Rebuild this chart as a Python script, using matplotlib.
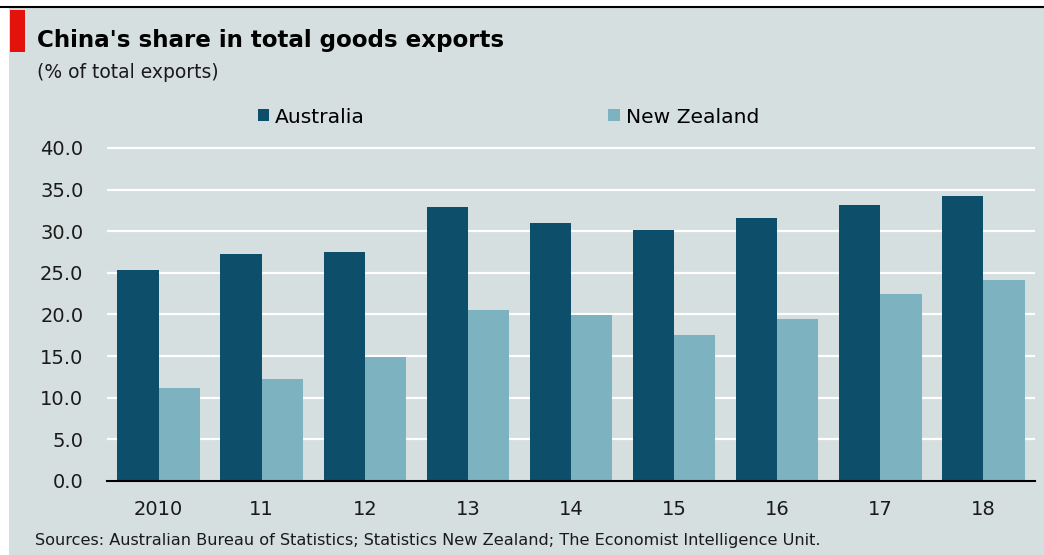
import matplotlib
matplotlib.use('Agg')
import matplotlib.pyplot as plt
import matplotlib.ticker as ticker
from matplotlib.patches import Rectangle
import numpy as np

# China's share in total goods exports, % of total exports
years = ['2010', '11', '12', '13', '14', '15', '16', '17', '18']
australia = [25.3, 27.3, 27.5, 32.9, 31.0, 30.1, 31.6, 33.2, 34.2]
new_zealand = [11.2, 12.3, 14.9, 20.6, 19.9, 17.5, 19.5, 22.5, 24.2]
y_ticks = [0, 5, 10, 15, 20, 25, 30, 35, 40]

dark_blue = '#0d4f6b'
light_blue = '#7db3c0'
bg = '#d5dfdf'

W, H = 1044, 555
fig = plt.figure(figsize=(W / 100, H / 100), dpi=100, facecolor='white')

# grey panel, black rule at the top and red tag
fig.patches.append(Rectangle((9 / W, 0), 1 - 9 / W, 1 - 8 / H, transform=fig.transFigure,
                             facecolor=bg, edgecolor='none', zorder=-10))
fig.lines.append(plt.Line2D([0, 1], [1 - 7 / H, 1 - 7 / H], transform=fig.transFigure,
                            color='black', lw=1.5, zorder=-5))
fig.patches.append(Rectangle((10 / W, 1 - 52 / H), 15 / W, 42 / H, transform=fig.transFigure,
                             facecolor='#e3120b', edgecolor='none', zorder=-5))

ax_main = fig.add_axes([107 / W, 1 - 481 / H, (1035 - 107) / W, (481 - 145.5) / H])
ax_main.set_facecolor('none')

x = np.arange(len(years))
width = 0.4
b1 = ax_main.bar(x - width / 2, australia, width, color=dark_blue, label='Australia', zorder=3)
b2 = ax_main.bar(x + width / 2, new_zealand, width, color=light_blue, label='New Zealand', zorder=3)

ax_main.set_xlim(-0.5, len(years) - 0.5)
ax_main.set_ylim(0, 40.3)
ax_main.set_yticks(y_ticks)
ax_main.yaxis.set_major_formatter(ticker.FormatStrFormatter('%.1f'))
ax_main.set_xticks(x)
ax_main.set_xticklabels(years)
ax_main.tick_params(axis='y', length=0, pad=17, labelsize=14, colors='#1a1a1a')
ax_main.tick_params(axis='x', length=0, pad=14, labelsize=14, colors='#1a1a1a')

ax_main.grid(axis='y', color='white', lw=1.6, zorder=1)
ax_main.set_axisbelow(True)
for side in ['top', 'right', 'left']:
    ax_main.spines[side].set_visible(False)
ax_main.spines['bottom'].set_color('black')
ax_main.spines['bottom'].set_linewidth(1.5)
ax_main.spines['bottom'].set_zorder(4)

ax_main.legend(handles=[b1, b2], loc='center left', bbox_to_anchor=(258 / W, 1 - 117 / H),
               bbox_transform=fig.transFigure, ncol=2, frameon=False, fontsize=14.6,
               handlelength=0.55, handleheight=0.55, handletextpad=0.3,
               columnspacing=12.0, borderpad=0, borderaxespad=0)

fig.text(37 / W, 1 - 40 / H, "China's share in total goods exports", fontsize=16.6,
         fontweight='bold', va='center', ha='left', color='black')
fig.text(37 / W, 1 - 73 / H, '(% of total exports)', fontsize=13.5, va='center', ha='left',
         color='#1a1a1a')
fig.text(35 / W, 1 - 541 / H,
         'Sources: Australian Bureau of Statistics; Statistics New Zealand; '
         'The Economist Intelligence Unit.',
         fontsize=11.6, va='center', ha='left', color='#1a1a1a')

fig.savefig('out.png', dpi=100, facecolor=fig.get_facecolor())
